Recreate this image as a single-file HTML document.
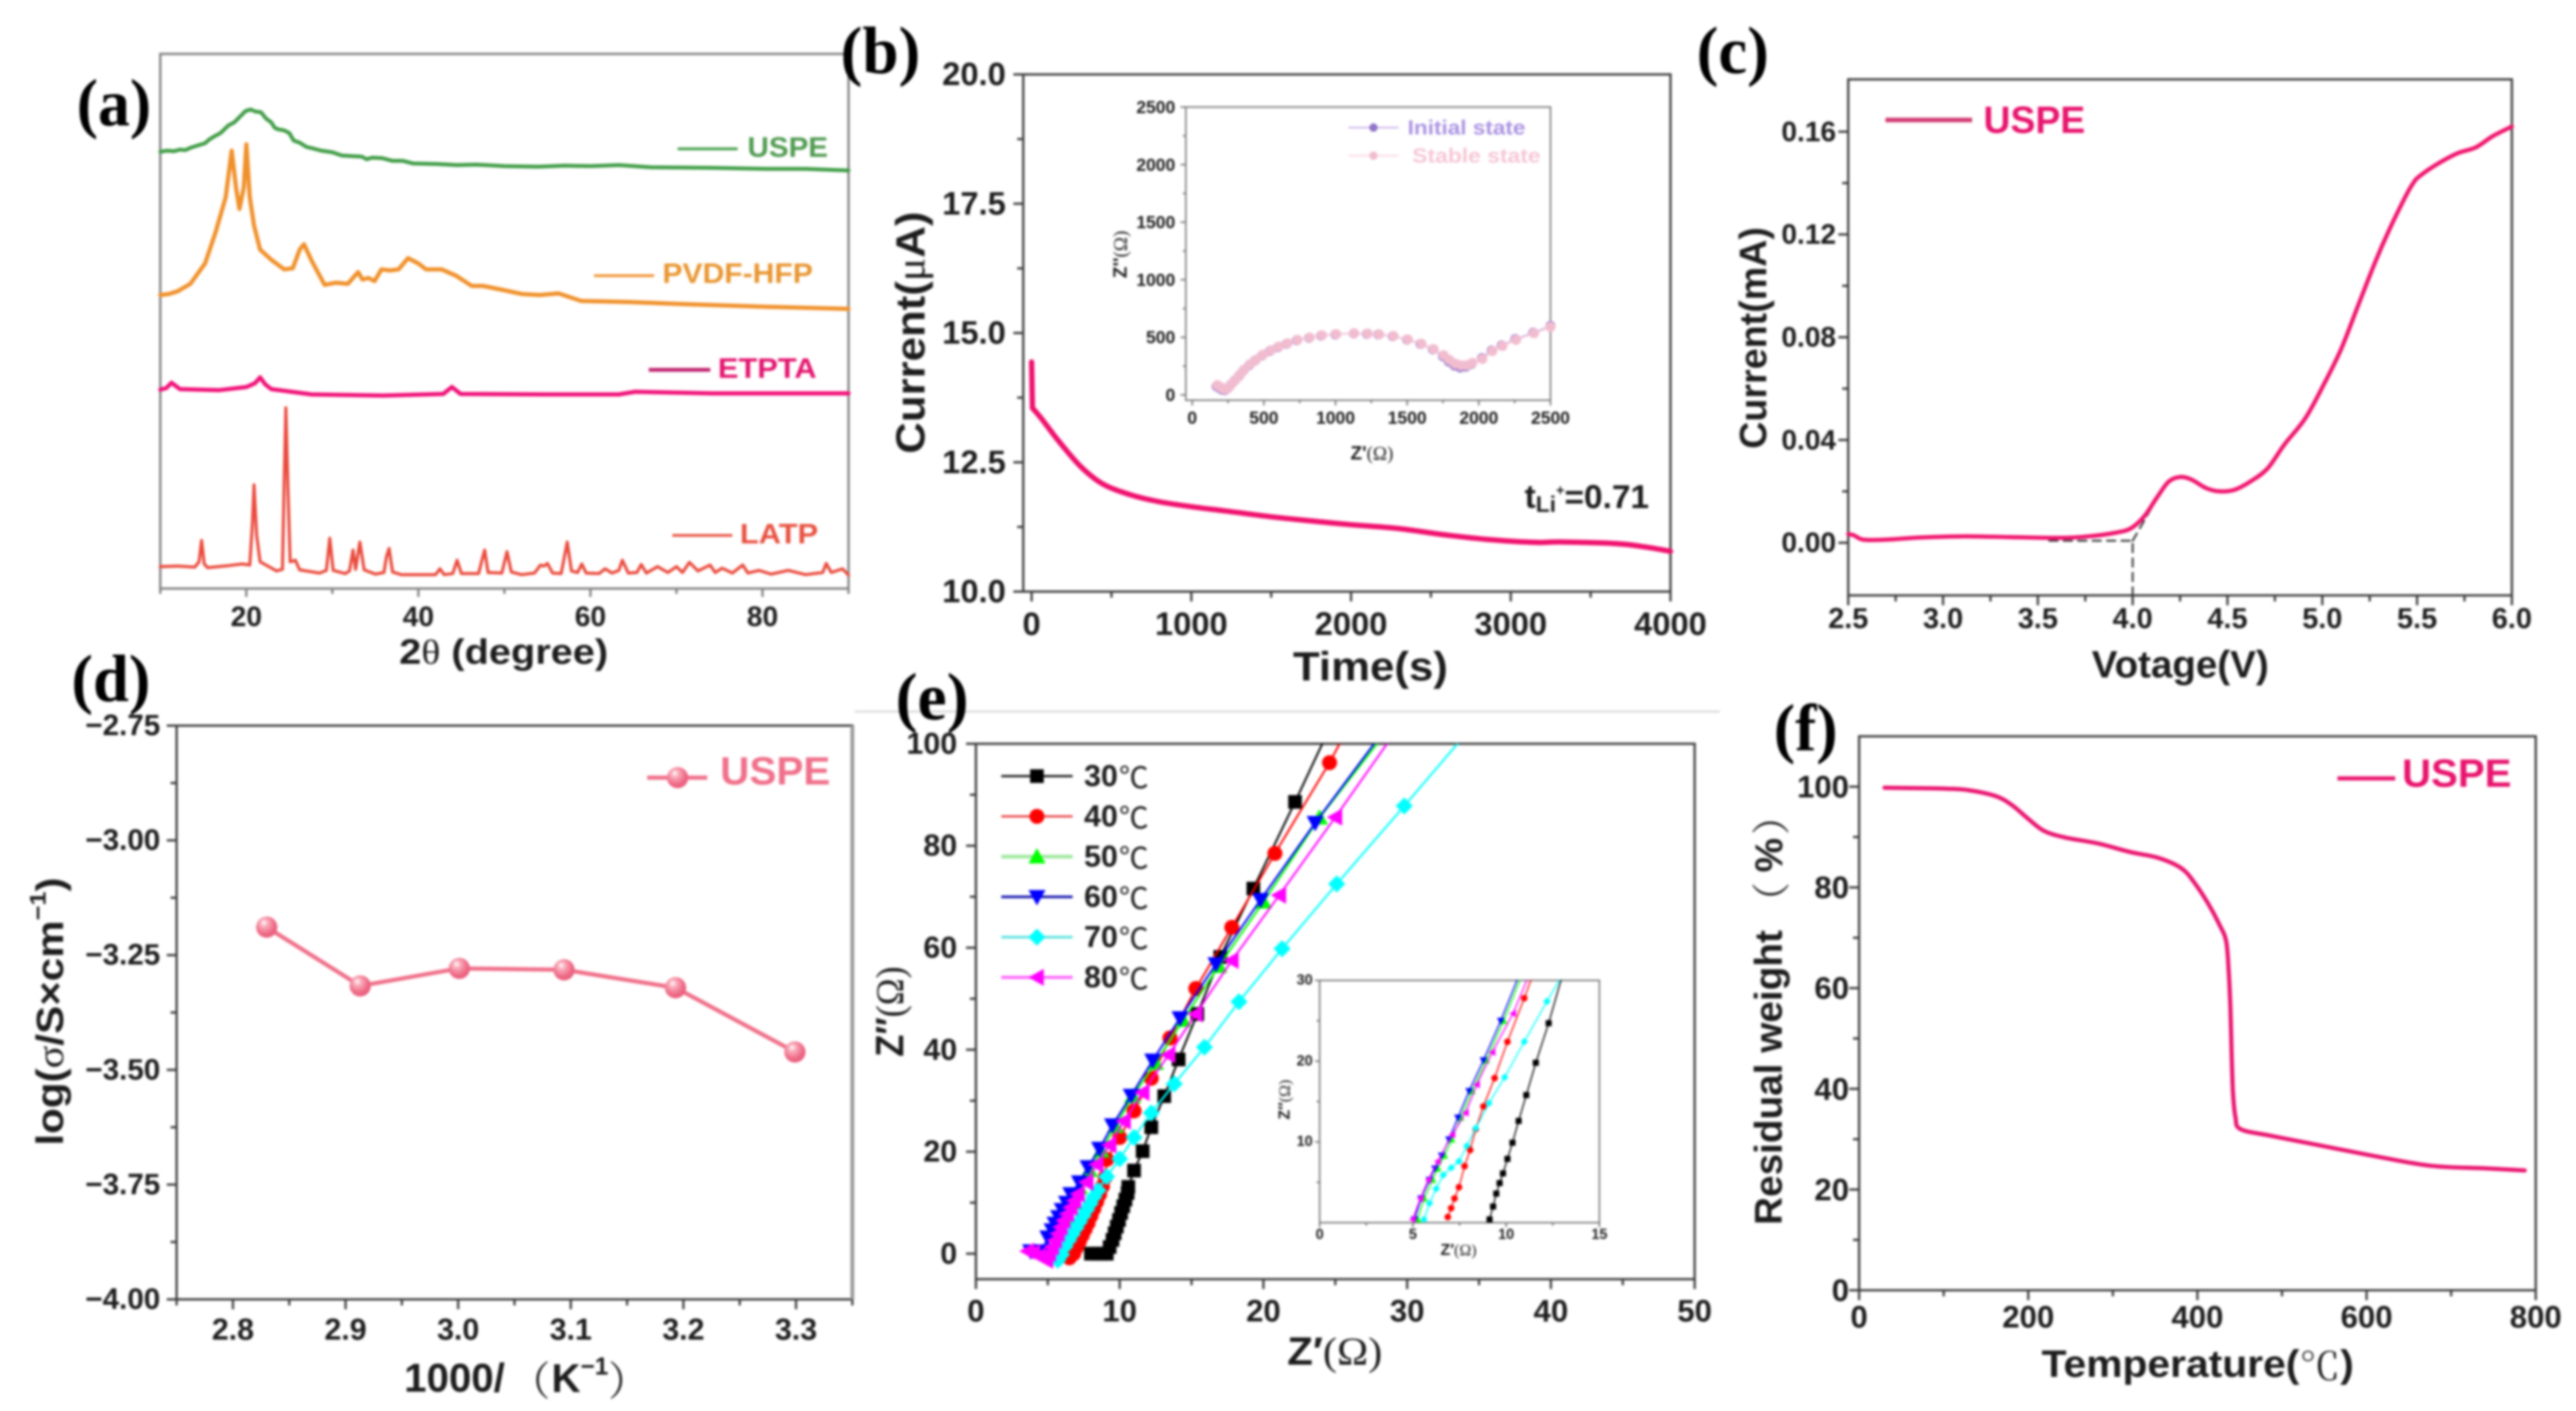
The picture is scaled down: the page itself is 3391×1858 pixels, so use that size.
<!DOCTYPE html>
<html lang="en">
<head>
<meta charset="utf-8">
<title>USPE characterization panels</title>
<style>
html,body{margin:0;padding:0;background:#fff;width:3391px;height:1858px;overflow:hidden}
svg{display:block;filter:blur(1.5px)}
text{font-family:"Liberation Sans","Noto Sans CJK SC",sans-serif;font-weight:700;fill:#1c1c1c;dominant-baseline:central}
.pl{font-family:"Liberation Serif","Noto Serif CJK SC",serif;fill:#000;dominant-baseline:alphabetic}
.sf{font-family:"Liberation Serif","Noto Serif CJK SC",serif;font-weight:400}
.cjk{font-family:"Noto Serif CJK SC",serif;font-weight:400}
.deg{font-family:"Noto Sans CJK SC",sans-serif;font-weight:400}
</style>
</head>
<body>
<svg id="figure" xmlns="http://www.w3.org/2000/svg" width="3391" height="1858" viewBox="0 0 3391 1858">
<defs>
<radialGradient id="ballGrad" cx="42%" cy="38%" r="62%" fx="36%" fy="28%">
<stop offset="0" stop-color="#ffffff"/><stop offset="0.3" stop-color="#f9a9b8"/><stop offset="0.75" stop-color="#ee6a86"/><stop offset="1" stop-color="#e95c7c"/>
</radialGradient>
</defs>
<rect x="0" y="0" width="3391" height="1858" fill="#fff"/>
<line x1="1125" y1="937" x2="2264" y2="937" stroke="#dedede" stroke-width="3"/>

<g id="panelA"></g>
<g id="panelB"></g>
<g id="panelC"></g>
<g id="panelD"></g>
<g id="panelE"></g>
<g id="panelF"></g>

<text class="pl" x="150" y="165" text-anchor="middle" font-size="88" textLength="98" lengthAdjust="spacingAndGlyphs">(a)</text>
<text class="pl" x="1159" y="96" text-anchor="middle" font-size="88" textLength="105" lengthAdjust="spacingAndGlyphs">(b)</text>
<text class="pl" x="2281" y="96" text-anchor="middle" font-size="88" textLength="95" lengthAdjust="spacingAndGlyphs">(c)</text>
<text class="pl" x="146" y="923" text-anchor="middle" font-size="88" textLength="104" lengthAdjust="spacingAndGlyphs">(d)</text>
<text class="pl" x="1227" y="947" text-anchor="middle" font-size="88" textLength="96" lengthAdjust="spacingAndGlyphs">(e)</text>
<text class="pl" x="2377" y="988" text-anchor="middle" font-size="88" textLength="84" lengthAdjust="spacingAndGlyphs">(f)</text>

<!-- panel a text -->
<text x="663" y="858" text-anchor="middle" font-size="46" textLength="275" lengthAdjust="spacingAndGlyphs">2<tspan class="sf">θ</tspan> (degree)</text>
<text x="984" y="194" font-size="37" textLength="106" lengthAdjust="spacingAndGlyphs" style="fill:#4f9a50">USPE</text>
<text x="872" y="360" font-size="37" textLength="198" lengthAdjust="spacingAndGlyphs" style="fill:#e8952f">PVDF-HFP</text>
<text x="945" y="485" font-size="37" textLength="130" lengthAdjust="spacingAndGlyphs" style="fill:#e3146e">ETPTA</text>
<text x="974" y="703" font-size="37" textLength="103" lengthAdjust="spacingAndGlyphs" style="fill:#e8503f">LATP</text>

<!-- panel b text -->
<text x="1804" y="878" text-anchor="middle" font-size="54" textLength="204" lengthAdjust="spacingAndGlyphs">Time(s)</text>
<text x="1199" y="438" text-anchor="middle" font-size="54" textLength="319" lengthAdjust="spacingAndGlyphs" transform="rotate(-90 1199 438)">Current(<tspan class="sf">μ</tspan>A)</text>
<text x="2007" y="654" font-size="44">t<tspan font-size="30" dy="10">Li</tspan><tspan font-size="19" dy="-18">+</tspan><tspan dy="8">=0.71</tspan></text>
<text x="1806" y="597" text-anchor="middle" font-size="25">Z'<tspan class="sf">(Ω)</tspan></text>
<text x="1475" y="335" text-anchor="middle" font-size="25" transform="rotate(-90 1475 335)">Z''<tspan class="sf">(Ω)</tspan></text>
<text x="1853" y="168" font-size="27" textLength="155" lengthAdjust="spacingAndGlyphs" style="fill:#ab92e2">Initial state</text>
<text x="1859" y="205" font-size="27" textLength="169" lengthAdjust="spacingAndGlyphs" style="fill:#f6c6d5">Stable state</text>

<!-- panel c text -->
<text x="2870" y="875" text-anchor="middle" font-size="50" textLength="233" lengthAdjust="spacingAndGlyphs">Votage(V)</text>
<text x="2308" y="445" text-anchor="middle" font-size="50" textLength="292" lengthAdjust="spacingAndGlyphs" transform="rotate(-90 2308 445)">Current(mA)</text>
<text x="2611" y="158" font-size="50" textLength="134" lengthAdjust="spacingAndGlyphs" style="fill:#e8146e">USPE</text>

<!-- panel d text -->
<text x="532" y="1815" font-size="53">1000/<tspan x="698" text-anchor="middle" class="cjk">（</tspan><tspan x="726" text-anchor="start">K</tspan><tspan font-size="32" dy="-16">−1</tspan><tspan x="827" dy="16" text-anchor="middle" class="cjk">）</tspan></text>
<text x="66" y="1332" text-anchor="middle" font-size="50" textLength="353" lengthAdjust="spacingAndGlyphs" transform="rotate(-90 66 1332)">log(<tspan class="sf">σ</tspan>/S×cm<tspan font-size="30" dy="-16">−1</tspan><tspan dy="16">)</tspan></text>
<text x="948" y="1016" font-size="52" textLength="145" lengthAdjust="spacingAndGlyphs" style="fill:#f0708a">USPE</text>

<!-- panel e text -->
<text x="1757" y="1780" text-anchor="middle" font-size="52" textLength="125" lengthAdjust="spacingAndGlyphs">Z′<tspan class="sf">(Ω)</tspan></text>
<text x="1172" y="1332" text-anchor="middle" font-size="52" textLength="119" lengthAdjust="spacingAndGlyphs" transform="rotate(-90 1172 1332)">Z″<tspan class="sf">(Ω)</tspan></text>
<text x="1920" y="1646" text-anchor="middle" font-size="21">Z′<tspan class="sf">(Ω)</tspan></text>
<text x="1691" y="1448" text-anchor="middle" font-size="21" transform="rotate(-90 1691 1448)">Z″<tspan class="sf">(Ω)</tspan></text>

<!-- panel f text -->
<text x="2893" y="1796" text-anchor="middle" font-size="50" textLength="411" lengthAdjust="spacingAndGlyphs">Temperature(<tspan class="cjk">℃</tspan>)</text>
<g transform="rotate(-90 2328 1347)">
<text x="2062" y="1347" font-size="51">Residual weight<tspan x="2488" text-anchor="middle" class="cjk">（</tspan><tspan x="2549" text-anchor="middle">%</tspan><tspan x="2601" text-anchor="middle" class="cjk">）</tspan></text>
</g>
<text x="3162" y="1019" font-size="52" textLength="144" lengthAdjust="spacingAndGlyphs" style="fill:#e8146e">USPE</text>
</svg>

<script>
// ---------- panel (a) XRD: [2theta, intensity a.u.] ----------
const xrdUspe = [[10,81.7],[10.8,81.9],[11.6,81.8],[12.3,82.1],[12.9,82],[13.6,82.5],[14.4,82.9],[15.2,83.3],[15.7,84],[16.2,84.5],[17,85.2],[17.9,86.6],[18.6,87.2],[19.4,88.5],[19.9,89.3],[20.5,89.6],[21.1,89.2],[21.7,89.1],[22.3,87.9],[22.9,87.2],[23.3,86.2],[23.7,85.9],[24.4,85.7],[25,85.2],[25.5,83.8],[26.2,83.4],[27,82.6],[27.8,82.3],[28.7,81.9],[30,81.6],[31.1,81],[32.2,80.9],[33.4,80.8],[34,80.3],[34.6,80.6],[35.8,80.5],[37,80],[38.2,80],[39.4,79.5],[42.3,79.4],[44.5,79.2],[46.7,79.3],[50,79],[54,78.9],[57,79.1],[60,79],[63.3,79.2],[67,78.8],[74.1,78.7],[80.5,78.5],[85,78.5],[90,78.2]];
const xrdPvdf = [[10,54.9],[11,55.1],[12,55.6],[13.5,57],[15.2,60.8],[16.4,66.5],[17.6,73.2],[18.3,81.9],[18.8,75],[19.2,71],[19.7,75],[20,83.1],[20.4,73.2],[20.9,67.9],[21.6,63.4],[22.9,61.5],[24.4,59.7],[25.4,59.9],[26.2,63.4],[26.7,64.4],[27.6,61.3],[29.1,56.8],[30.4,57.2],[31.8,57],[33,59.2],[33.5,57.8],[34.2,58.1],[34.9,57.5],[35.7,59.7],[36.7,59.5],[37.7,59.7],[38.8,61.8],[40,60.8],[40.9,59.7],[42.7,59.7],[44.4,58.5],[46.2,56.6],[47.5,56.6],[49.7,55.9],[52,55.1],[54.1,54.9],[56.3,55.2],[58.9,53.8],[64.6,53.6],[71,53.2],[80.5,52.7],[90,52.3]];
const xrdEtpta = [[10,37.2],[10.7,37.5],[11.3,38.5],[12.3,37.3],[16.8,37.1],[20,37.7],[21,38.4],[21.6,39.5],[22.2,38.2],[22.9,37.3],[27.6,36.3],[35.9,36.1],[42.9,36.4],[43.9,37.7],[44.9,36.4],[55,36.3],[63.3,36.3],[65.2,36.8],[74.1,36.5],[90,36.5]];
const xrdLatp = [[10,4.1],[12,4.2],[14,4],[14.5,5],[14.8,9],[15.1,4.6],[15.5,3.9],[18,4.3],[19.5,4.6],[20.4,4.4],[20.7,12],[20.9,19.4],[21.2,10],[21.6,5],[22.5,4.2],[23.5,3.3],[24.2,3.6],[24.4,20],[24.6,33.8],[24.85,18],[25.1,5],[25.7,5.3],[26.2,3.5],[28.5,2.9],[29.3,3.4],[29.7,9.4],[30.1,3.4],[31.5,2.8],[32,3.3],[32.4,7.2],[32.7,3.6],[33.2,8.7],[33.7,3.5],[35,2.7],[36,3],[36.3,6],[36.6,7.5],[37,3.1],[38,2.6],[42,2.6],[42.5,3.7],[43,2.6],[44,2.8],[44.5,5.3],[45,2.8],[47,2.8],[47.5,6],[47.7,7.2],[48.1,3],[49.7,2.9],[50.3,6.9],[50.8,3.1],[52,2.6],[53.5,2.9],[54.2,4.4],[54.6,4.2],[55,4.7],[55.6,2.9],[56.6,2.8],[57.1,7],[57.3,8.7],[57.8,3.3],[58.5,3],[59,4.6],[59.5,2.9],[61,2.8],[61.7,3.7],[62.5,2.9],[63.3,3.4],[63.7,5.3],[64.4,2.9],[65.4,3],[65.9,4.5],[66.5,2.9],[67.8,4.1],[69,3],[70,4.1],[70.7,3],[71.5,4.9],[72.5,3.3],[73.9,4.4],[74.5,3],[75.3,3.8],[76.5,2.9],[77.7,4.4],[78.3,2.9],[79.6,3.4],[81,2.7],[83,3.4],[85,2.6],[87,3],[87.4,4.7],[88,3],[89.3,3.7],[90,2.5]];
const xrdXMajor = [20,40,60,80];
const xrdXMinor = [10,30,50,70,90];

// ---------- panel (b) current vs time ----------
const currentTime = [[0,14.44],[5,13.55],[63,13.34],[167,12.92],[307,12.42],[446,12.08],[621,11.87],[795,11.74],[1004,11.64],[1213,11.56],[1492,11.45],[1771,11.36],[2015,11.29],[2294,11.22],[2608,11.09],[2887,11],[3166,10.95],[3305,10.96],[3654,10.93],[3829,10.87],[4000,10.78]];
const bXMajor = [0,1000,2000,3000,4000];
const bXMinor = [500,1500,2500,3500];
const bYMajor = [10,12.5,15,17.5,20];
const bYMinor = [11.25,13.75,16.25,18.75];
const bYLabels = ['10.0','12.5','15.0','17.5','20.0'];
const insetInitial = [[170,75],[190,60],[210,45],[230,42],[250,60],[270,90],[300,130],[330,170],[360,215],[400,260],[440,300],[490,345],[544,383],[600,415],[660,445],[730,475],[816,496],[900,515],[1000,525],[1128,534],[1220,530],[1300,525],[1400,510],[1500,480],[1594,443],[1680,395],[1750,335],[1790,290],[1830,255],[1870,238],[1910,245],[1950,270],[2022,320],[2090,385],[2160,430],[2255,485],[2380,540],[2500,600]];
const insetStable = [[175,85],[195,70],[215,55],[235,50],[255,65],[275,95],[305,135],[335,178],[365,222],[405,268],[445,305],[495,350],[550,388],[605,420],[665,448],[735,478],[820,498],[905,518],[1005,528],[1130,536],[1225,532],[1305,526],[1405,512],[1505,482],[1600,445],[1685,398],[1755,345],[1795,305],[1835,272],[1875,258],[1915,258],[1955,278],[2025,312],[2095,380],[2165,425],[2260,478],[2385,535],[2500,590]];
const insetTicks = [0,500,1000,1500,2000,2500];
const insetMinor = [250,750,1250,1750,2250];

// ---------- panel (c) LSV ----------
const lsvCurve = [[2.5,0.0034],[2.53,0.0029],[2.58,0.0012],[2.7,0.0012],[2.87,0.002],[3.11,0.0025],[3.35,0.0022],[3.62,0.0019],[3.77,0.0025],[3.91,0.0039],[3.99,0.0056],[4.06,0.0102],[4.13,0.0178],[4.19,0.0238],[4.25,0.0256],[4.31,0.0246],[4.39,0.0212],[4.46,0.02],[4.54,0.0207],[4.62,0.0238],[4.71,0.0288],[4.8,0.0382],[4.91,0.0484],[5.01,0.0619],[5.1,0.0755],[5.19,0.0925],[5.28,0.1094],[5.35,0.1213],[5.44,0.1349],[5.48,0.14],[5.51,0.1425],[5.6,0.1471],[5.71,0.1515],[5.81,0.1539],[5.9,0.1583],[6,0.162]];
const onsetGuide = [[3.56,0.0008],[4,0.0008],[4,-0.0204]];
const onsetSlope = [[4,0.0008],[4.15,0.02]];
const cXMajor = [2.5,3,3.5,4,4.5,5,5.5,6];
const cXMinor = [2.75,3.25,3.75,4.25,4.75,5.25,5.75];
const cXLabels = ['2.5','3.0','3.5','4.0','4.5','5.0','5.5','6.0'];
const cYMajor = [0,0.04,0.08,0.12,0.16];
const cYMinor = [0.02,0.06,0.1,0.14];
const cYLabels = ['0.00','0.04','0.08','0.12','0.16'];

// ---------- panel (d) conductivity ----------
const inverseT = [2.83,2.913,3.001,3.094,3.193,3.299];
const logSigma = [-3.189,-3.317,-3.279,-3.282,-3.321,-3.461];
const dXMajor = [2.8,2.9,3,3.1,3.2,3.3];
const dXMinor = [2.75,2.85,2.95,3.05,3.15,3.25,3.35];
const dXLabels = ['2.8','2.9','3.0','3.1','3.2','3.3'];
const dYMajor = [-4,-3.75,-3.5,-3.25,-3,-2.75];
const dYMinor = [-3.875,-3.625,-3.375,-3.125,-2.875];
const dYLabels = ['−4.00','−3.75','−3.50','−3.25','−3.00','−2.75'];

// ---------- panel (e) Nyquist ----------
const eisSeriesNames = ['30','40','50','60','70','80'];
const eis30 = [[8,0],[8.4,0],[8.8,0],[9.1,0],[9.3,1.3],[9.5,2.7],[9.65,4],[9.8,5.3],[9.95,6.6],[10.1,8],[10.25,9.3],[10.4,10.6],[10.55,11.9],[10.6,13.1],[11,16.3],[11.6,20.1],[12.2,24.8],[13.1,30.9],[14.1,38.1],[15.4,47],[17,58.2],[19.3,71.6],[22.2,88.6],[24.1,100]];
const eis40 = [[6.5,-0.8],[6.8,0],[7,1.2],[7.2,2.4],[7.4,3.6],[7.6,4.8],[7.8,6],[8,7.4],[8.2,8.8],[8.4,10.2],[8.6,11.6],[8.8,13.2],[9,15],[9.1,18.5],[10,22.8],[11,28],[12.2,34.4],[13.5,42.3],[15.3,52],[17.8,64],[20.8,78.5],[24.6,96.3],[25.3,100]];
const eis50 = [[5.2,0],[5.5,1.8],[5.8,4],[6.2,7],[6.7,10],[7.2,13],[7.9,16.4],[8.7,20.2],[9.7,25],[10.9,30.9],[12.5,37.4],[14.4,45.8],[16.9,56.4],[20,69],[23.9,85.5],[27.9,100]];
const eis60 = [[3.8,0.5],[4.6,0.5],[5,3.2],[5.3,4.6],[5.5,5.9],[5.75,7.2],[6,8.6],[6.3,10],[6.6,11.7],[7.2,14],[7.8,17],[8.6,20.6],[9.5,25.2],[10.8,31],[12.3,37.9],[14.2,46.2],[16.7,56.8],[19.8,69.4],[23.6,84.5],[27.7,100]];
const eis70 = [[5.7,-1.3],[5.95,-0.2],[6.2,1.4],[6.45,2.6],[6.7,3.8],[6.95,5],[7.2,6.2],[7.45,7.4],[7.7,8.6],[7.95,9.8],[8.2,11.1],[8.5,12.4],[9.1,15.1],[10,18.6],[11,22.8],[12.2,27.6],[13.8,33.3],[15.9,40.5],[18.3,49.4],[21.3,59.8],[25.1,72.5],[29.8,87.8],[33.5,100]];
const eis80 = [[3.6,0.5],[4,0.2],[4.4,-0.5],[4.9,-1.3],[5.1,0],[5.3,1.3],[5.5,2.6],[5.7,3.9],[5.9,5.2],[6.1,6.5],[6.35,7.8],[6.6,9.1],[6.85,10.4],[7.1,11.7],[7.7,14],[8.4,17.5],[9.3,21.3],[10.3,26],[11.6,31.6],[13.4,39],[15.3,47],[17.8,57.5],[21.1,70.3],[25,85.6],[28.6,100]];
const eXMajor = [0,10,20,30,40,50];
const eXMinor = [5,15,25,35,45];
const eYMajor = [0,20,40,60,80,100];
const eYMinor = [10,30,50,70,90];
const eisIn30 = [[9.11,0.4],[9.3,2],[9.47,3.6],[9.65,4.9],[9.83,6.1],[10.07,7.9],[10.34,9.9],[10.67,12.6],[11.08,15.8],[11.59,19.8],[12.28,24.7],[12.94,30]];
const eisIn40 = [[6.87,0.7],[7.05,1.8],[7.23,3],[7.47,4.4],[7.77,7],[8.07,9],[8.37,11.6],[8.78,14.4],[9.38,17.9],[10.07,22.4],[10.97,27.8],[11.32,30]];
const eisIn50 = [[5.25,0.4],[5.6,3],[6.05,5.3],[6.33,6.7],[6.69,8.3],[7.08,10.3],[7.56,13],[8.16,16.3],[8.93,20.1],[9.86,25],[10.73,30]];
const eisIn60 = [[5.08,0.4],[5.44,3],[5.89,5.3],[6.18,6.7],[6.54,8.3],[6.93,10.3],[7.41,13],[8.01,16.3],[8.78,20.1],[9.71,25],[10.58,30]];
const eisIn70 = [[5.59,0.4],[5.89,2.4],[6.25,4.2],[6.63,5.9],[7.05,6.8],[7.47,7.6],[7.89,9.5],[8.37,11.7],[9.08,14.8],[9.92,18],[10.97,22.4],[12.19,27.4],[12.85,30]];
const eisIn80 = [[4.99,0.4],[5.4,3],[5.83,5.3],[6.33,7.6],[7.11,10.9],[7.83,13.6],[8.43,17.1],[9.26,21.1],[10.37,25.9],[11.11,30]];
const eInXMajor = [0,5,10,15];
const eInXMinor = [2.5,7.5,12.5];
const eInYMajor = [10,20,30];
const eInYMinor = [5,15,25];

// ---------- panel (f) TGA ----------
const tgaCurve = [[30,99.8],[72.6,99.7],[104,99.6],[130,99.3],[162,98.1],[181,96.3],[200,93.6],[219,91.2],[244,89.9],[283,88.7],[321,87],[353,85.9],[381,83.8],[397,80.8],[413,76.7],[426,72.6],[434,69.3],[437,63.4],[439,56],[440.5,46.8],[442,39.4],[445,34.3],[451,32],[486,30.7],[550,28.6],[614,26.5],[677,24.7],[741,24.2],[787,23.8]];
const fXMajor = [0,200,400,600,800];
const fXMinor = [100,300,500,700];
const fYMajor = [0,20,40,60,80,100];
const fYMinor = [10,30,50,70,90];

// ---------- helpers ----------
const NS = 'http://www.w3.org/2000/svg';
function scale(d0, d1, p0, p1) { return v => p0 + (v - d0) * (p1 - p0) / (d1 - d0); }
function add(parent, tag, attrs, name) {
  const el = document.createElementNS(NS, tag);
  for (const k in attrs) el.setAttribute(k, attrs[k]);
  
  
  parent.appendChild(el);
  return el;
}
function label(parent, x, y, str, size, anchor, name) {
  const el = add(parent, 'text', {x: x, y: y, 'font-size': size, 'text-anchor': anchor}, name);
  el.textContent = str;
  return el;
}
function pathOf(points, sx, sy) {
  return points.map((p, i) => (i ? 'L' : 'M') + sx(p[0]).toFixed(1) + ' ' + sy(p[1]).toFixed(1)).join('');
}
function smoothOf(points, sx, sy) {
  const P = points.map(p => [sx(p[0]), sy(p[1])]);
  let d = 'M' + P[0][0].toFixed(1) + ' ' + P[0][1].toFixed(1);
  for (let i = 0; i < P.length - 1; i++) {
    const a = P[Math.max(i - 1, 0)], b = P[i], c = P[i + 1], e = P[Math.min(i + 2, P.length - 1)];
    d += 'C' + (b[0] + (c[0] - a[0]) / 6).toFixed(1) + ' ' + (b[1] + (c[1] - a[1]) / 6).toFixed(1) + ' ' +
         (c[0] - (e[0] - b[0]) / 6).toFixed(1) + ' ' + (c[1] - (e[1] - b[1]) / 6).toFixed(1) + ' ' +
         c[0].toFixed(1) + ' ' + c[1].toFixed(1);
  }
  return d;
}
function series(parent, points, sx, sy, color, width, name, smooth) {
  const d = smooth ? smoothOf(points, sx, sy) : pathOf(points, sx, sy);
  return add(parent, 'path', {d: d, fill: 'none', stroke: color, 'stroke-width': width, 'stroke-linejoin': 'round', 'stroke-linecap': 'round'}, name);
}
function axes(g, box, sx, sy, o) {
  const sw = o.sw || 3, col = o.col || '#3d3d3d', M = o.major || 13, m = o.minor || 8, pre = o.name;
  add(g, 'rect', {x: box.l, y: box.t, width: box.r - box.l, height: box.b - box.t, fill: 'none', stroke: col, 'stroke-width': sw}, pre + '-frame');
  (o.xMajor || []).forEach((v, i) => {
    add(g, 'line', {x1: sx(v), x2: sx(v), y1: box.b, y2: box.b + M, stroke: col, 'stroke-width': sw}, pre + '-x-tick');
    const txt = o.xLabels ? o.xLabels[i] : String(v);
    label(g, sx(v), o.xLabelY, txt, o.xFont, 'middle', pre + '-x-tick-label');
  });
  (o.xMinor || []).forEach(v => {
    add(g, 'line', {x1: sx(v), x2: sx(v), y1: box.b, y2: box.b + m, stroke: col, 'stroke-width': sw}, pre + '-x-minor-tick');
  });
  (o.yMajor || []).forEach((v, i) => {
    add(g, 'line', {x1: box.l - M, x2: box.l, y1: sy(v), y2: sy(v), stroke: col, 'stroke-width': sw}, pre + '-y-tick');
    const txt = o.yLabels ? o.yLabels[i] : String(v);
    label(g, o.yLabelX, sy(v), txt, o.yFont, 'end', pre + '-y-tick-label');
  });
  (o.yMinor || []).forEach(v => {
    add(g, 'line', {x1: box.l - m, x2: box.l, y1: sy(v), y2: sy(v), stroke: col, 'stroke-width': sw}, pre + '-y-minor-tick');
  });
}
function clipFor(id, box) {
  const svg = document.getElementById('figure');
  const cp = add(svg.querySelector('defs'), 'clipPath', {id: id}, id);
  add(cp, 'rect', {x: box.l, y: box.t, width: box.r - box.l, height: box.b - box.t}, id + '-rect');
  return 'url(#' + id + ')';
}
function marker(parent, kind, x, y, s, color, name) {
  if (kind === 'square') return add(parent, 'rect', {x: x - s, y: y - s, width: 2 * s, height: 2 * s, fill: color}, name);
  if (kind === 'circle') return add(parent, 'circle', {cx: x, cy: y, r: s * 1.1, fill: color}, name);
  const S = s * 1.25;
  const shapes = {
    up: [[0, -S], [S, S * 0.8], [-S, S * 0.8]],
    down: [[0, S], [S, -S * 0.8], [-S, -S * 0.8]],
    diamond: [[0, -S], [S, 0], [0, S], [-S, 0]],
    left: [[-S, 0], [S * 0.8, -S], [S * 0.8, S]]
  };
  return add(parent, 'polygon', {points: shapes[kind].map(p => (x + p[0]).toFixed(1) + ',' + (y + p[1]).toFixed(1)).join(' '), fill: color}, name);
}

// ---------- draw panel a ----------
(function () {
  const g = document.getElementById('panelA');
  const box = {l: 211, r: 1117, t: 71, b: 775};
  const sx = scale(10, 90, box.l, box.r), sy = scale(0, 100, box.b, box.t);
  axes(g, box, sx, sy, {name: 'a', col: '#808080', xMajor: xrdXMajor, xMinor: xrdXMinor, xLabelY: 812, xFont: 37, major: 11, minor: 7});
  series(g, xrdUspe, sx, sy, '#3f9c45', 5, 'xrd-uspe-line');
  series(g, xrdPvdf, sx, sy, '#f0902a', 5.5, 'xrd-pvdf-hfp-line');
  series(g, xrdEtpta, sx, sy, '#f01078', 5.5, 'xrd-etpta-line');
  series(g, xrdLatp, sx, sy, '#ea4a3c', 4, 'xrd-latp-line');
  add(g, 'line', {x1: 892, x2: 971, y1: 196, y2: 196, stroke: '#3f9c45', 'stroke-width': 3.5}, 'xrd-legend-line-uspe');
  add(g, 'line', {x1: 782, x2: 861, y1: 363, y2: 363, stroke: '#f0902a', 'stroke-width': 3.5}, 'xrd-legend-line-pvdf');
  add(g, 'line', {x1: 854, x2: 935, y1: 487, y2: 487, stroke: '#c0226e', 'stroke-width': 5}, 'xrd-legend-line-etpta');
  add(g, 'line', {x1: 885, x2: 964, y1: 705, y2: 705, stroke: '#e8503f', 'stroke-width': 3.5}, 'xrd-legend-line-latp');
})();

// ---------- draw panel b ----------
(function () {
  const g = document.getElementById('panelB');
  const box = {l: 1347, r: 2199, t: 98, b: 779};
  const sx = scale(0, 4000, 1358, 2199), sy = scale(10, 20, 779, 98);
  axes(g, box, sx, sy, {name: 'b', xMajor: bXMajor, xMinor: bXMinor, xLabelY: 822, xFont: 43, yMajor: bYMajor, yMinor: bYMinor, yLabels: bYLabels, yLabelX: 1324, yFont: 43});
  series(g, currentTime.slice(0, 2), sx, sy, '#f0106e', 7, 'current-time-spike');
  series(g, currentTime.slice(1), sx, sy, '#f0106e', 7, 'current-time-line', true);
  const ibox = {l: 1561, r: 2041, t: 141, b: 527};
  const ix = scale(0, 2500, 1569.4, 2041), iy = scale(0, 2500, 520, 141);
  axes(g, ibox, ix, iy, {name: 'b-inset', col: '#777', sw: 2, major: 7, minor: 4, xMajor: insetTicks, xMinor: insetMinor, xLabelY: 550, xFont: 23, yMajor: insetTicks, yMinor: insetMinor, yLabelX: 1547, yFont: 23});
  series(g, insetInitial, ix, iy, '#c9b0e6', 2, 'inset-initial-line');
  insetInitial.forEach(p => { marker(g, 'circle', ix(p[0]), iy(p[1]), 6, '#a586d0', 'inset-initial-point'); });
  series(g, insetStable, ix, iy, '#f5c8d8', 2, 'inset-stable-line');
  insetStable.forEach(p => { marker(g, 'circle', ix(p[0]), iy(p[1]), 6, '#f2bccf', 'inset-stable-point'); });
  add(g, 'line', {x1: 1775, x2: 1841, y1: 168, y2: 168, stroke: '#c9b0e6', 'stroke-width': 2}, 'inset-legend-line-initial');
  marker(g, 'circle', 1808, 168, 5, '#8f74c8', 'inset-legend-marker-initial');
  add(g, 'line', {x1: 1775, x2: 1841, y1: 205, y2: 205, stroke: '#f8d8e2', 'stroke-width': 2}, 'inset-legend-line-stable');
  marker(g, 'circle', 1808, 205, 5, '#f2bccf', 'inset-legend-marker-stable');
})();

// ---------- draw panel c ----------
(function () {
  const g = document.getElementById('panelC');
  const box = {l: 2433, r: 3306.6, t: 104.5, b: 784};
  const sx = scale(2.5, 6, box.l, box.r), sy = scale(0, 0.16, 714.7, 173.4);
  axes(g, box, sx, sy, {name: 'c', xMajor: cXMajor, xMinor: cXMinor, xLabels: cXLabels, xLabelY: 815, xFont: 38, yMajor: cYMajor, yMinor: cYMinor, yLabels: cYLabels, yLabelX: 2417, yFont: 37});
  const dash = series(g, onsetGuide, sx, sy, '#333', 2.5, 'onset-guide-dashed');
  dash.setAttribute('stroke-dasharray', '11 8');
  const dash2 = series(g, onsetSlope, sx, sy, '#333', 2.5, 'onset-slope-dashed');
  dash2.setAttribute('stroke-dasharray', '11 8');
  series(g, lsvCurve, sx, sy, '#f0146e', 5.5, 'lsv-line', true);
  add(g, 'line', {x1: 2482, x2: 2596, y1: 158, y2: 158, stroke: '#d13a75', 'stroke-width': 6}, 'c-legend-line');
})();

// ---------- draw panel d ----------
(function () {
  const g = document.getElementById('panelD');
  const box = {l: 232.5, r: 1122, t: 955.5, b: 1711};
  const sx = scale(2.75, 3.35, box.l, box.r), sy = scale(-4, -2.75, box.b, box.t);
  axes(g, box, sx, sy, {name: 'd', xMajor: dXMajor, xMinor: dXMinor, xLabels: dXLabels, xLabelY: 1751, xFont: 40, yMajor: dYMajor, yMinor: dYMinor, yLabels: dYLabels, yLabelX: 211, yFont: 39});
  add(g, 'line', {x1: box.r, x2: box.r, y1: box.t, y2: box.b, stroke: '#9a9a9a', 'stroke-width': 5}, 'd-right-spine');
  const pts = inverseT.map((v, i) => [v, logSigma[i]]);
  series(g, pts, sx, sy, '#f0708a', 5.5, 'conductivity-line');
  pts.forEach(p => {
    add(g, 'circle', {cx: sx(p[0]), cy: sy(p[1]), r: 14, fill: 'url(#ballGrad)'}, 'conductivity-point');
  });
  add(g, 'line', {x1: 852, x2: 931, y1: 1024, y2: 1024, stroke: '#f0708a', 'stroke-width': 5.5}, 'd-legend-line');
  add(g, 'circle', {cx: 892, cy: 1024, r: 14, fill: 'url(#ballGrad)'}, 'd-legend-marker');
})();

// ---------- draw panel e ----------
(function () {
  const g = document.getElementById('panelE');
  const colors = ['#000000', '#ff0000', '#00ff00', '#0000ff', '#00ffff', '#ff00ff'];
  const legendLines = ['#222222', '#ea4a4a', '#a4e8a4', '#1a1ab0', '#62e2e2', '#ff66ff'];
  const legendWidths = [3, 3, 5, 3.5, 3.5, 4];
  const kinds = ['square', 'circle', 'up', 'down', 'diamond', 'left'];
  const main = [eis30, eis40, eis50, eis70, eis60, eis80];
  const mainIdx = [0, 1, 2, 4, 3, 5];
  const box = {l: 1284.7, r: 2230.8, t: 979.4, b: 1684.4};
  const sx = scale(0, 50, box.l, box.r), sy = scale(-5, 100, box.b, box.t);
  axes(g, box, sx, sy, {name: 'e', xMajor: eXMajor, xMinor: eXMinor, xLabelY: 1726, xFont: 41, yMajor: eYMajor, yMinor: eYMinor, yLabelX: 1260, yFont: 40});
  const clip = add(g, 'g', {'clip-path': clipFor('eClip', box)}, 'e-plot-area');
  main.forEach((data, i) => {
    const k = mainIdx[i];
    series(clip, data, sx, sy, colors[k], 2.5, 'eis-line-' + eisSeriesNames[k]);
    data.filter(p => p[1] < 100).forEach(p => { marker(clip, kinds[k], sx(p[0]), sy(p[1]), 9, colors[k], 'eis-point-' + eisSeriesNames[k]); });
  });
  const legendY = [1022, 1075, 1128, 1181, 1234, 1287];
  eisSeriesNames.forEach((nm, i) => {
    add(g, 'line', {x1: 1318, x2: 1412, y1: legendY[i], y2: legendY[i], stroke: legendLines[i], 'stroke-width': legendWidths[i]}, 'e-legend-line-' + nm);
    marker(g, kinds[i], 1365, legendY[i], 9, colors[i], 'e-legend-marker-' + nm);
    label(g, 1427, legendY[i], nm, 40, 'start', 'e-legend-label-' + nm);
    const u = label(g, 1473, legendY[i], '℃', 39, 'start', 'e-legend-unit-' + nm);
    u.setAttribute('class', 'deg');
  });
  const ibox = {l: 1737.2, r: 2105.4, t: 1291, b: 1610};
  const ix = scale(0, 15, ibox.l, ibox.r), iy = scale(0, 30, ibox.b, ibox.t);
  axes(g, ibox, ix, iy, {name: 'e-inset', col: '#777', sw: 2, major: 6, minor: 4, xMajor: eInXMajor, xMinor: eInXMinor, xLabelY: 1626, xFont: 19, yMajor: eInYMajor, yMinor: eInYMinor, yLabelX: 1728, yFont: 19});
  const inset = [eisIn30, eisIn40, eisIn50, eisIn60, eisIn70, eisIn80];
  inset.forEach((data, k) => {
    series(g, data, ix, iy, colors[k], 1.6, 'eis-inset-line-' + eisSeriesNames[k]);
    data.filter(p => p[1] < 30).forEach(p => { marker(g, kinds[k], ix(p[0]), iy(p[1]), 4, colors[k], 'eis-inset-point-' + eisSeriesNames[k]); });
  });
})();

// ---------- draw panel f ----------
(function () {
  const g = document.getElementById('panelF');
  const box = {l: 2447.3, r: 3338, t: 969.6, b: 1699};
  const sx = scale(0, 800, box.l, box.r), sy = scale(0, 110, box.b, box.t);
  axes(g, box, sx, sy, {name: 'f', xMajor: fXMajor, xMinor: fXMinor, xLabelY: 1734, xFont: 41, yMajor: fYMajor, yMinor: fYMinor, yLabelX: 2434, yFont: 41});
  series(g, tgaCurve, sx, sy, '#ea1470', 5.5, 'tga-line', true);
  add(g, 'line', {x1: 3077, x2: 3153, y1: 1025, y2: 1025, stroke: '#ea1470', 'stroke-width': 5.5}, 'f-legend-line');
})();
</script>
</body>
</html>
